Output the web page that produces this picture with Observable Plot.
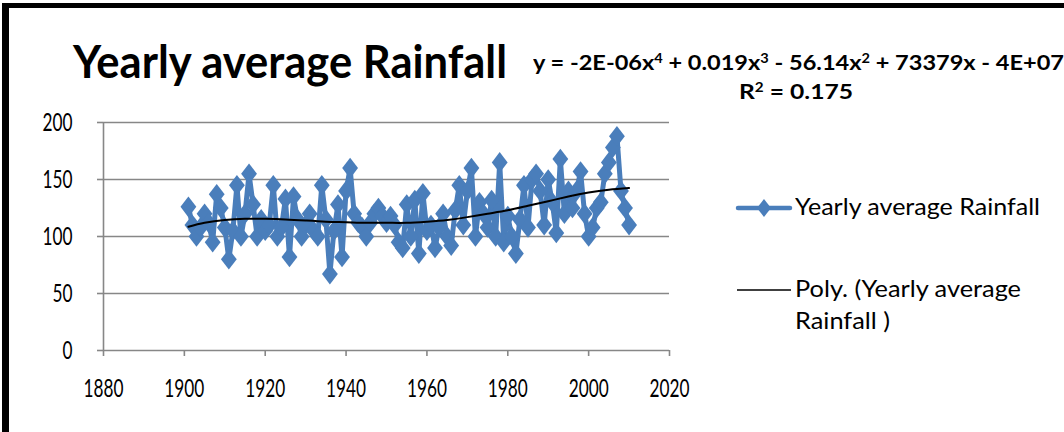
<!DOCTYPE html>
<html>
<head>
<meta charset="utf-8">
<script src="https://cdn.jsdelivr.net/npm/d3@7"></script>
<script src="https://cdn.jsdelivr.net/npm/@observablehq/plot@0.6"></script>
<style>
  html, body { margin: 0; padding: 0; background: #fff; }
  #wrap { position: relative; width: 1064px; height: 432px; overflow: hidden; background: #fff; font-family: Lato, "Open Sans", sans-serif; color: #000; }
  #frame { position: absolute; left: 2px; top: 3px; width: 1200px; height: 600px; border-left: 7px solid #000; border-top: 5px solid #000; }
  #chart { position: absolute; left: 0; top: 0; }
  .abs { position: absolute; white-space: nowrap; line-height: 1; transform-origin: 0 0; }
  .abs sup { font-size: 0.62em; line-height: 0; vertical-align: 0.55em; }
  #title { left: 73px; top: 38px; font-size: 46px; font-weight: 700; }
  #eq { left: 533px; top: 51px; font-size: 21px; font-weight: 700; }
  #r2 { left: 739px; top: 80px; font-size: 21px; font-weight: 700; }
  .lg { font-size: 23px; }
</style>
</head>
<body>
<div id="wrap">
  <div id="frame"></div>
  <div id="chart"></div>
  <div id="title" class="abs">Yearly average Rainfall</div>
  <div id="eq" class="abs">y = -2E-06x<sup>4</sup> + 0.019x<sup>3</sup> - 56.14x<sup>2</sup> + 73379x - 4E+07</div>
  <div id="r2" class="abs">R<sup>2</sup> = 0.175</div>
  <svg class="abs" style="left:735px;top:196px" width="58" height="24"><line x1="3" y1="12" x2="55" y2="12" stroke="#4a7ebb" stroke-width="4.5" stroke-linecap="round"/><path d="M29,3 L36,12 L29,21 L22,12 Z" fill="#4a7ebb"/></svg>
  <div id="lg1" class="abs lg" style="left:795px;top:195px">Yearly average Rainfall</div>
  <svg class="abs" style="left:735px;top:280px" width="58" height="20"><line x1="2" y1="10" x2="56" y2="10" stroke="#000" stroke-width="1.5"/></svg>
  <div id="lg2" class="abs lg" style="left:795px;top:277px">Poly. (Yearly average</div>
  <div id="lg3" class="abs lg" style="left:795px;top:309px">Rainfall )</div>
</div>
<script>
// Data
const startYear = 1901;
const rainfall = [
  126,110,100,108,120,112, 95,137,125,108,
   80,105,145,100,120,155,128,100,115,105,
  110,145,100,108,133, 82,135,115,100,110,
  120,105,100,145,115, 67,105,128, 82,140,
  160,120,112,108,100,112,120,125,118,112,
  118,110, 95, 90,128,100,132, 85,138,105,
  110, 90,108,120,100, 92,123,145,110,140,
  160,100,130,120,108,132,100,165, 95,118,
  100, 85,115,145,108,150,155,140,110,150,
  130,103,168,120,140,125,140,157,120,100,
  108,125,130,155,165,178,188,140,125,110
];
const years = rainfall.map((_, i) => startYear + i);

// Polynomial trend line
const trendYears  = [1901,1905,1910,1915,1920,1925,1930,1935,1940,1945,1950,1955,1960,1965,1970,1975,1980,1985,1990,1995,2000,2005,2010];
const trendValues = [108.5,112,114.5,115.5,115.5,115,114,113,112.5,112,112,112,113,114.5,117,120,123,127,131,135,138.5,141,142.5];

const xTicks = [1880,1900,1920,1940,1960,1980,2000,2020];
const yTicks = [0,50,100,150,200];

const series = years.map((y, i) => ({year: y, value: rainfall[i]}));
const trend = trendYears.map((y, i) => ({year: y, value: trendValues[i]}));

const blue = "#4a7ebb";
const gray = "#878787";

// Excel-style diamond marker (slightly taller than wide)
const excelDiamond = {
  draw(context, size) {
    const w = Math.sqrt(size / 2.6), h = 1.3 * w;
    context.moveTo(0, -h);
    context.lineTo(w, 0);
    context.lineTo(0, h);
    context.lineTo(-w, 0);
    context.closePath();
  }
};

const chart = Plot.plot({
  width: 720,
  height: 432,
  marginLeft: 103,
  marginRight: 51,
  marginTop: 122,
  marginBottom: 82,
  style: {fontFamily: "Lato, 'Open Sans', sans-serif", fontSize: "25px", background: "transparent", color: "#000"},
  x: {domain: [1880, 2020]},
  y: {domain: [0, 200]},
  marks: [
    Plot.gridY(yTicks, {stroke: gray, strokeOpacity: 1, strokeWidth: 1.6}),
    Plot.ruleX([1880], {stroke: gray, strokeWidth: 1.6}),
    Plot.axisY({ticks: yTicks, tickSize: 6, tickPadding: 25, stroke: gray, strokeWidth: 1.6, fill: "#000", fontSize: 25, label: null}),
    Plot.axisX({ticks: xTicks, tickSize: 6, tickPadding: 23, stroke: gray, strokeWidth: 1.6, fill: "#000", fontSize: 25, tickFormat: d => String(d), label: null}),
    Plot.line(series, {x: "year", y: "value", stroke: blue, strokeWidth: 5, strokeLinejoin: "round"}),
    Plot.dot(series, {x: "year", y: "value", symbol: excelDiamond, r: 7.2, fill: blue, stroke: "none"}),
    Plot.line(trend, {x: "year", y: "value", stroke: "#000", strokeWidth: 2, curve: "natural"})
  ]
});
document.getElementById("chart").appendChild(chart);

// the reference's face is tall and narrow: compress tick labels horizontally
chart.querySelectorAll('g[aria-label$="tick label"] text').forEach(t => {
  const w = t.getComputedTextLength();
  if (w > 0) {
    t.setAttribute("textLength", (w * 0.69).toFixed(1));
    t.setAttribute("lengthAdjust", "spacingAndGlyphs");
  }
});

// fit text widths to the reference's narrow face
function fit(id, target) {
  const el = document.getElementById(id);
  const w = el.getBoundingClientRect().width;
  if (w > 0) el.style.transform = `scaleX(${target / w})`;
}
fit("title", 434);
fit("eq", 531);
fit("r2", 114);
fit("lg1", 245);
fit("lg2", 226);
fit("lg3", 95);
</script>
</body>
</html>
